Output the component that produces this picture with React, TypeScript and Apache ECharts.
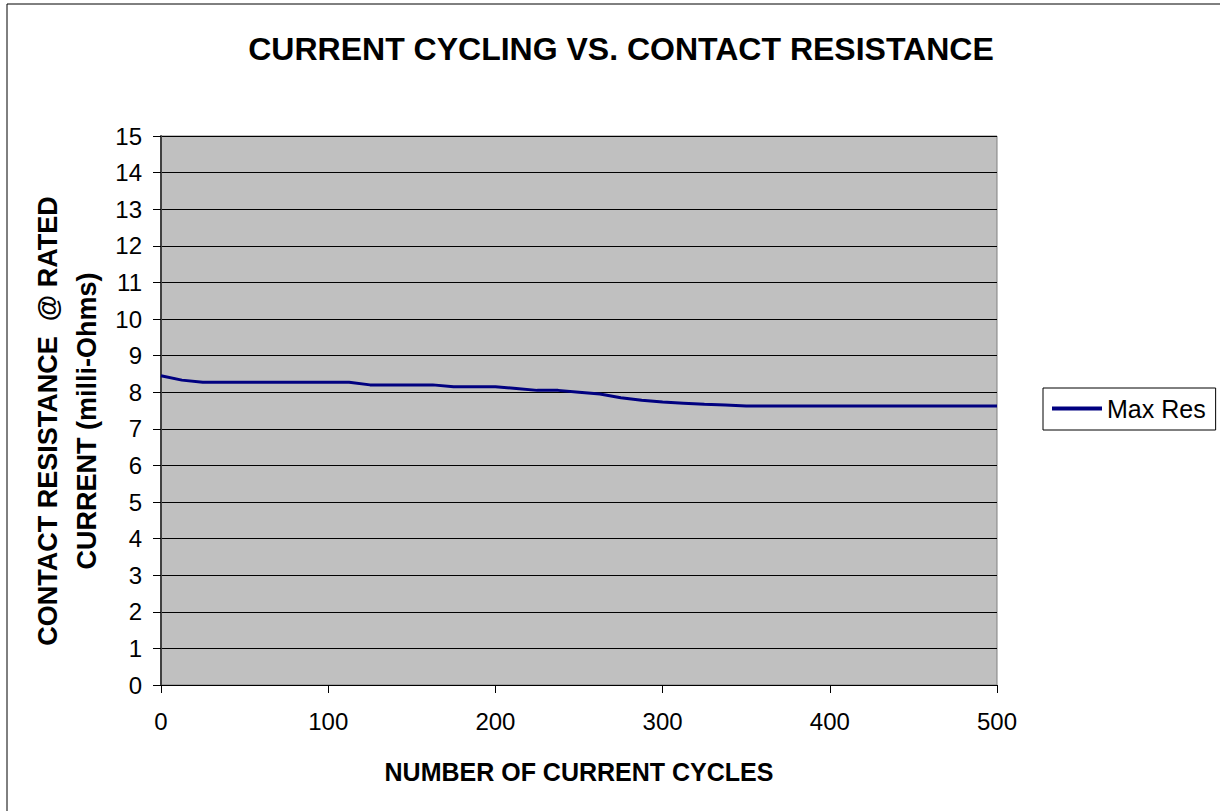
import React, { useEffect, useRef } from "react";
import * as echarts from "echarts";

const cycles = [0, 12.5, 25, 37.5, 50, 62.5, 75, 87.5, 100, 112.5, 125, 137.5, 150, 162.5, 175, 187.5, 200, 212.5, 225, 237.5, 250, 262.5, 275, 287.5, 300, 312.5, 325, 337.5, 350, 362.5, 375, 387.5, 400, 412.5, 425, 437.5, 450, 462.5, 475, 487.5, 500];
const maxRes = [8.45, 8.33, 8.27, 8.27, 8.27, 8.27, 8.27, 8.27, 8.27, 8.27, 8.2, 8.2, 8.2, 8.2, 8.15, 8.15, 8.15, 8.1, 8.05, 8.05, 8.0, 7.95, 7.85, 7.78, 7.73, 7.7, 7.67, 7.65, 7.62, 7.62, 7.62, 7.62, 7.62, 7.62, 7.62, 7.62, 7.62, 7.62, 7.62, 7.62, 7.62];
const seriesName = "Max Res";
const titleText = "CURRENT CYCLING VS. CONTACT RESISTANCE";
const xTitle = "NUMBER OF CURRENT CYCLES";
const yTitle1 = "CONTACT RESISTANCE  @ RATED";
const yTitle2 = "CURRENT (milli-Ohms)";

const FONT = "Liberation Sans, Arial, sans-serif";

export default function App() {
  const ref = useRef<HTMLDivElement>(null);
  useEffect(() => {
    if (!ref.current) return;
    const chart = echarts.init(ref.current, null, { renderer: "svg" });
    chart.setOption({
      animation: false,
      backgroundColor: "#ffffff",
      textStyle: { fontFamily: FONT },
      grid: {
        left: 161,
        top: 136,
        right: 223,
        bottom: 126,
        show: true,
        backgroundColor: "#C0C0C0",
        borderColor: "#808080",
        borderWidth: 1,
      },
      legend: {
        left: 1043,
        top: 388,
        orient: "vertical",
        data: [seriesName],
        borderColor: "#000",
        borderWidth: 1,
        padding: [8, 10, 9, 9],
        itemWidth: 50,
        itemHeight: 4,
        icon: "rect",
        textStyle: { fontSize: 25, color: "#000", fontFamily: FONT },
      },
      xAxis: {
        type: "value",
        min: 0,
        max: 500,
        interval: 100,
        axisLine: { show: true, lineStyle: { color: "#000", width: 1 } },
        axisTick: { show: true, length: 8, lineStyle: { color: "#000" } },
        axisLabel: { fontSize: 24, color: "#000", margin: 24, fontFamily: FONT },
        splitLine: { show: false },
      },
      yAxis: {
        type: "value",
        min: 0,
        max: 15,
        interval: 1,
        axisLine: { show: true, lineStyle: { color: "#404040", width: 2 } },
        axisTick: { show: true, length: 8, lineStyle: { color: "#000" } },
        axisLabel: { fontSize: 24, color: "#000", margin: 19, fontFamily: FONT },
        splitLine: { show: true, lineStyle: { color: "#000", width: 1 } },
      },
      graphic: [
        {
          type: "rect",
          shape: { x: 7, y: 4, width: 1300, height: 900 },
          style: { fill: "none", stroke: "#000", lineWidth: 1 },
          silent: true,
          z: -1,
        },
        {
          type: "text",
          x: 621,
          y: 49,
          style: {
            text: titleText,
            fontSize: 32,
            fontWeight: "bold",
            fill: "#000",
            fontFamily: FONT,
            align: "center",
            verticalAlign: "middle",
          },
        },
        {
          type: "text",
          x: 579,
          y: 772,
          style: {
            text: xTitle,
            fontSize: 25,
            fontWeight: "bold",
            fill: "#000",
            fontFamily: FONT,
            align: "center",
            verticalAlign: "middle",
          },
        },
        {
          type: "text",
          x: 48,
          y: 421,
          rotation: Math.PI / 2,
          style: {
            text: yTitle1,
            fontSize: 27,
            fontWeight: "bold",
            fill: "#000",
            fontFamily: FONT,
            align: "center",
            verticalAlign: "middle",
          },
        },
        {
          type: "text",
          x: 87,
          y: 421,
          rotation: Math.PI / 2,
          style: {
            text: yTitle2,
            fontSize: 27,
            fontWeight: "bold",
            fill: "#000",
            fontFamily: FONT,
            align: "center",
            verticalAlign: "middle",
          },
        },
      ],
      series: [
        {
          name: seriesName,
          type: "line",
          data: cycles.map((c, i) => [c, maxRes[i]]),
          showSymbol: false,
          symbol: "none",
          lineStyle: { color: "#000080", width: 3 },
          itemStyle: { color: "#000080" },
        },
      ],
    });
    return () => chart.dispose();
  }, []);
  return (
    <div
      ref={ref}
      style={{ position: "fixed", left: 0, top: 0, width: 1220, height: 811 }}
    />
  );
}
